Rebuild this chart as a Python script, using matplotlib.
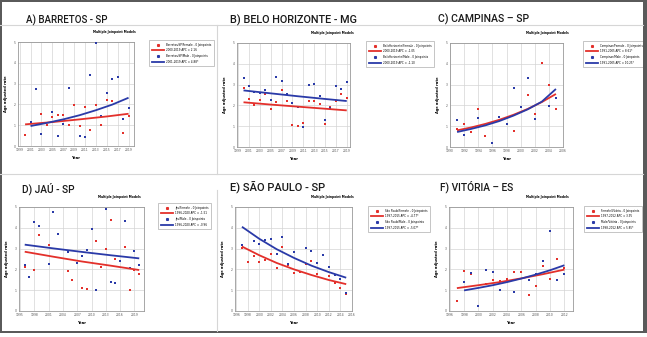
import matplotlib
matplotlib.use('Agg')
import matplotlib.pyplot as plt
from matplotlib import font_manager
from matplotlib.lines import Line2D
from matplotlib.patches import Rectangle

W, H = 647, 337
RED = '#e3302b'
BLUE = '#2a3aa8'

# A) Barretos - SP
a_f_years = [2000, 2003, 2004, 2005, 2006, 2007, 2008, 2009, 2010, 2011, 2012, 2013, 2014, 2015, 2016, 2018, 2019]
a_f_rate = [0.54, 1.55, 1.00, 1.40, 1.48, 1.50, 1.00, 1.99, 0.98, 1.86, 0.75, 1.99, 0.99, 2.21, 2.18, 0.61, 1.46]
a_m_years = [2001, 2002, 2003, 2005, 2006, 2007, 2008, 2010, 2011, 2012, 2013, 2014, 2015, 2016, 2017, 2018, 2019]
a_m_rate = [1.14, 2.76, 0.56, 1.62, 0.46, 1.04, 2.79, 0.48, 0.43, 3.43, 4.97, 1.46, 2.56, 3.20, 3.30, 1.30, 1.81]
a_f_fit_years = [2000, 2005, 2010, 2015, 2019]
a_f_fit = [1.04, 1.15, 1.28, 1.42, 1.55]
a_m_fit_years = [2001, 2004, 2007, 2010, 2013, 2016, 2019]
a_m_fit = [0.96, 1.11, 1.28, 1.48, 1.72, 1.99, 2.32]
a_labels = ['Barretos/SP/Female - 0 Joinpoints', '2000-2019 APC = 2.16',
            'Barretos/SP/Male - 0 Joinpoints', '2001-2019 APC = 4.88*']

# B) Belo Horizonte - MG
b_years = list(range(2000, 2020))
b_f_rate = [2.84, 2.32, 2.04, 2.24, 2.55, 1.84, 2.15, 2.72, 2.20, 1.07,
            1.01, 1.14, 2.21, 2.20, 2.07, 1.10, 1.90, 2.20, 2.53, 2.37]
b_m_rate = [3.30, 2.92, 2.63, 2.60, 2.72, 2.26, 3.37, 3.16, 2.56, 2.10,
            1.94, 0.95, 3.00, 3.05, 2.44, 1.30, 1.88, 2.93, 2.80, 3.12]
b_fit_years = [2000, 2005, 2010, 2015, 2019]
b_f_fit = [2.15, 2.04, 1.94, 1.84, 1.76]
b_m_fit = [2.72, 2.58, 2.44, 2.31, 2.21]
b_labels = ['BeloHorizonte/Female - 0 Joinpoints', '2000-2019 APC = -1.05',
            'BeloHorizonte/Male - 0 Joinpoints', '2000-2019 APC = -1.10']

# C) Campinas - SP
c_f_years = [1991, 1992, 1993, 1994, 1995, 1997, 1999, 2001, 2002, 2003, 2004, 2005]
c_f_rate = [0.87, 1.12, 0.74, 1.83, 0.51, 1.44, 0.75, 2.48, 1.60, 4.05, 2.96, 1.83]
c_m_years = [1991, 1992, 1994, 1996, 1997, 1998, 1999, 2000, 2001, 2002, 2004, 2005]
c_m_rate = [1.28, 0.59, 1.38, 0.19, 1.46, 1.12, 2.85, 1.94, 3.33, 1.33, 1.97, 2.37]
c_fit_years = [1991, 1993, 1995, 1997, 1999, 2001, 2003, 2005]
c_f_fit = [0.80, 0.94, 1.11, 1.31, 1.55, 1.83, 2.16, 2.55]
c_m_fit = [0.72, 0.87, 1.04, 1.25, 1.51, 1.81, 2.18, 2.79]
c_labels = ['Campinas/Female - 0 Joinpoints', '1991-2005 APC = 8.61*',
            'Campinas/Male - 0 Joinpoints', '1991-2005 APC = 10.25*']

# D) Jau - SP
d_f_years = [1996, 1998, 1999, 2001, 2005, 2006, 2008, 2009, 2011, 2012, 2013, 2014, 2015, 2017, 2018, 2019, 2020]
d_f_rate = [2.10, 1.97, 3.67, 3.16, 1.91, 1.47, 1.09, 1.06, 3.38, 2.13, 2.98, 4.36, 2.48, 3.09, 0.99, 1.96, 1.79]
d_m_years = [1996, 1997, 1998, 1999, 2001, 2002, 2003, 2005, 2007, 2008, 2009, 2010, 2011,
             2013, 2014, 2015, 2016, 2017, 2018, 2019, 2020]
d_m_rate = [2.20, 1.63, 4.28, 4.07, 2.24, 4.78, 3.69, 2.85, 2.31, 2.66, 2.92, 3.94, 1.01,
            4.90, 1.41, 1.35, 2.40, 4.33, 2.08, 2.88, 2.21]
d_fit_years = [1996, 2002, 2008, 2014, 2020]
d_f_fit = [2.85, 2.61, 2.38, 2.18, 1.97]
d_m_fit = [3.19, 3.01, 2.84, 2.68, 2.53]
d_labels = ['Jau/Female - 0 Joinpoints', '1996-2020 APC = -1.51',
            'Jau/Male - 0 Joinpoints', '1996-2020 APC = -0.96']

# E) Sao Paulo - SP
e_f_years = [1997, 1998, 1999, 2000, 2001, 2002, 2003, 2004, 2005, 2006, 2007, 2008, 2009, 2010, 2012, 2013, 2014, 2015]
e_f_rate = [3.03, 2.37, 2.66, 2.37, 2.44, 2.76, 2.06, 3.10, 2.21, 1.81, 1.87, 2.24, 2.40, 1.76, 1.68, 1.34, 1.11, 0.84]
e_m_years = [1997, 1999, 2000, 2001, 2002, 2003, 2004, 2005, 2006, 2008, 2009, 2010, 2011, 2012, 2013, 2014, 2015]
e_m_rate = [3.18, 3.37, 3.21, 3.42, 3.48, 2.74, 3.56, 2.24, 2.84, 3.03, 2.89, 2.32, 2.71, 2.13, 1.73, 1.55, 0.85]
e_fit_years = [1997, 2000, 2003, 2006, 2009, 2012, 2015]
e_f_fit = [3.10, 2.68, 2.31, 2.00, 1.73, 1.49, 1.29]
e_m_fit = [4.05, 3.47, 2.97, 2.55, 2.18, 1.87, 1.60]
e_labels = ['São Paulo/Female - 0 Joinpoints', '1997-2015 APC = -4.77*',
            'São Paulo/Male - 0 Joinpoints', '1997-2015 APC = -5.07*']

# F) Vitoria - ES
f_f_years = [1997, 1998, 1999, 2001, 2002, 2003, 2004, 2005, 2006, 2007, 2008, 2009, 2010, 2011, 2012]
f_f_rate = [0.46, 1.92, 1.76, 1.31, 1.49, 1.43, 1.54, 1.86, 1.86, 0.79, 1.19, 2.18, 1.55, 2.52, 2.05]
f_m_years = [1998, 1999, 2000, 2001, 2002, 2003, 2005, 2007, 2008, 2009, 2010, 2011, 2012]
f_m_rate = [1.41, 1.81, 0.22, 1.96, 1.89, 0.99, 0.93, 1.47, 1.76, 2.40, 3.85, 1.51, 1.78]
f_f_fit_years = [1997, 2000, 2003, 2006, 2009, 2012]
f_f_fit = [1.10, 1.24, 1.39, 1.57, 1.77, 1.99]
f_m_fit_years = [1998, 2000, 2002, 2004, 2006, 2008, 2010, 2012]
f_m_fit = [0.99, 1.11, 1.24, 1.39, 1.56, 1.75, 1.96, 2.20]
f_labels = ['Female/Vitória - 0 Joinpoints', '1997-2012 APC = 3.95',
            'Male/Vitória - 0 Joinpoints', '1998-2012 APC = 5.85*']

names = [f.name for f in font_manager.fontManager.ttflist]
title_font = 'Roboto' if 'Roboto' in names else 'Liberation Sans'

fig = plt.figure(figsize=(W / 100, H / 100), dpi=100)
fig.patch.set_facecolor('white')


def frac(x, y):
    return x / W, 1 - y / H


def draw_panel(title, title_xy, title_size, box, legend_xy, xlim, xticks,
               f_pts, m_pts, f_fit, m_fit, labels):
    x0, y0, x1, y1 = box
    ax = fig.add_axes([x0 / W, 1 - y1 / H, (x1 - x0) / W, (y1 - y0) / H])
    ax.scatter(*f_pts, marker='s', s=1.8, color=RED, linewidths=0, zorder=3)
    ax.scatter(*m_pts, marker='s', s=1.8, color=BLUE, linewidths=0, zorder=3)
    ax.plot(*f_fit, color=RED, lw=1.3, zorder=4, solid_capstyle='butt')
    ax.plot(*m_fit, color=BLUE, lw=1.3, zorder=4, solid_capstyle='butt')
    ax.set_xlim(*xlim)
    ax.set_ylim(0, 5)
    ax.set_xticks(xticks)
    ax.set_yticks(range(6))
    ax.grid(True, color='#d4d4d4', lw=0.5)
    ax.set_axisbelow(True)
    ax.tick_params(labelsize=2.2, length=0, pad=1.5, colors='#555555')
    for s in ax.spines.values():
        s.set_color('#999999')
        s.set_linewidth(0.6)
    ax.set_xlabel('Year', fontsize=2.6, fontweight='bold', labelpad=2.5)
    ax.set_ylabel('Age adjusted rate', fontsize=2.6, fontweight='bold', labelpad=4)

    handles = [Line2D([], [], ls='none', marker='s', ms=1.2, color=RED),
               Line2D([], [], color=RED, lw=1.3),
               Line2D([], [], ls='none', marker='s', ms=1.2, color=BLUE),
               Line2D([], [], color=BLUE, lw=1.3)]
    leg = ax.legend(handles, labels, loc='upper left', bbox_to_anchor=frac(*legend_xy),
                    bbox_transform=fig.transFigure, fontsize=2.0, frameon=True,
                    fancybox=False, edgecolor='#999999', handlelength=4.5,
                    borderpad=0.8, labelspacing=0.6, handletextpad=0.8)
    leg.get_frame().set_linewidth(0.5)

    cx = (x0 + legend_xy[0] + 62) / 2
    fig.text(*frac(cx, y0 - 10), 'Multiple Joinpoint Models', fontsize=2.2,
             fontweight='bold', ha='center', va='center')
    fig.text(*frac(*title_xy), title, fontsize=title_size, family=title_font,
             fontweight='medium', ha='left', va='baseline', color='#1a1a1a')


# frame of the collage
gray_lines = [((0, 25), (643, 25)), ((217, 25), (217, 174)), ((0, 174), (643, 174)),
              ((217, 190), (217, 331))]
for (xa, ya), (xb, yb) in gray_lines:
    fig.add_artist(Line2D([xa / W, xb / W], [1 - ya / H, 1 - yb / H],
                          transform=fig.transFigure, color='#d6d6d6', lw=0.8))
for (rx, ry, rw, rh) in [(0, 0, 2, 333), (643, 0, 4, 333), (0, 0, 647, 1.5), (0, 331, 647, 2)]:
    fig.add_artist(Rectangle((rx / W, 1 - (ry + rh) / H), rw / W, rh / H,
                             transform=fig.transFigure, color='#5a5a5a', lw=0))

draw_panel('A) BARRETOS - SP', (26, 23), 7.0, (18, 42, 134, 146), (148, 39),
           (1998.7, 2020), range(1999, 2020, 2),
           (a_f_years, a_f_rate), (a_m_years, a_m_rate),
           (a_f_fit_years, a_f_fit), (a_m_fit_years, a_m_fit), a_labels)
draw_panel('B) BELO HORIZONTE - MG', (230, 23), 7.8, (237, 43, 350, 147), (365, 40),
           (1998.8, 2019.6), range(1999, 2020, 2),
           (b_years, b_f_rate), (b_years, b_m_rate),
           (b_fit_years, b_f_fit), (b_fit_years, b_m_fit), b_labels)
draw_panel('C) CAMPINAS – SP', (438, 22), 7.6, (450, 43, 563, 147), (582, 40),
           (1990, 2006), range(1990, 2007, 2),
           (c_f_years, c_f_rate), (c_m_years, c_m_rate),
           (c_fit_years, c_f_fit), (c_fit_years, c_m_fit), c_labels)
draw_panel('D) JAÚ - SP', (22, 192), 7.3, (19, 207, 144, 311), (157, 202),
           (1994.8, 2021), range(1995, 2020, 3),
           (d_f_years, d_f_rate), (d_m_years, d_m_rate),
           (d_fit_years, d_f_fit), (d_fit_years, d_m_fit), d_labels)
draw_panel('E) SÃO PAULO - SP', (230, 190), 8.0, (235, 207, 352, 311), (367, 205),
           (1995.8, 2016), range(1996, 2017, 2),
           (e_f_years, e_f_rate), (e_m_years, e_m_rate),
           (e_fit_years, e_f_fit), (e_fit_years, e_m_fit), e_labels)
draw_panel('F) VITÓRIA – ES', (440, 190), 7.3, (449, 207, 573, 311), (583, 205),
           (1995.9, 2013.2), range(1996, 2013, 2),
           (f_f_years, f_f_rate), (f_m_years, f_m_rate),
           (f_f_fit_years, f_f_fit), (f_m_fit_years, f_m_fit), f_labels)

fig.savefig('out.png', dpi=100, facecolor='white')
